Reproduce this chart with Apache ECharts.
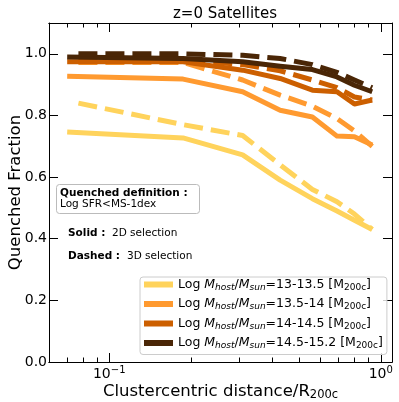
<!DOCTYPE html>
<html>
<head>
<meta charset="utf-8">
<script src="https://cdn.jsdelivr.net/npm/echarts@6/dist/echarts.min.js"></script>
<style>
  html, body { margin: 0; padding: 0; background: #fff; }
  #chart { width: 399px; height: 402px; }
</style>
</head>
<body>
<div id="chart"></div>
<script>
// radial bins (R / R200c)
const rSolid = [0.07, 0.187, 0.31, 0.426, 0.56, 0.69, 0.80, 0.93];
const rDashed = [0.077, 0.187, 0.31, 0.426, 0.56, 0.69, 0.80, 0.93];

// quenched fraction, 2D selection (solid)
const q2d_13 = [0.746, 0.727, 0.672, 0.59, 0.53, 0.49, 0.46, 0.43];
const q2d_135 = [0.927, 0.918, 0.877, 0.817, 0.795, 0.733, 0.731, 0.704];
const q2d_14 = [0.974, 0.974, 0.947, 0.92, 0.882, 0.877, 0.837, 0.85];
const q2d_145 = [0.99, 0.985, 0.974, 0.96, 0.949, 0.925, 0.898, 0.877];

// quenched fraction, 3D selection (dashed)
const q3d_13 = [0.84, 0.77, 0.735, 0.64, 0.56, 0.52, 0.48, 0.43];
const q3d_135 = [0.972, 0.972, 0.915, 0.866, 0.83, 0.79, 0.75, 0.70];
const q3d_14 = [0.98, 0.98, 0.965, 0.945, 0.915, 0.89, 0.86, 0.85];
const q3d_145 = [1.0, 1.0, 0.995, 0.985, 0.965, 0.94, 0.915, 0.89];

const massBins = ['13-13.5', '13.5-14', '14-14.5', '14.5-15.2'];
const colors = ['#ffd35c', '#ff9a30', '#cc5f00', '#4a2606'];

const xMajor = [0.1, 1];
const xMinor = [0.07, 0.08, 0.09, 0.2, 0.3, 0.4, 0.5, 0.6, 0.7, 0.8, 0.9];
const yTicks = [0, 0.2, 0.4, 0.6, 0.8, 1.0];

const solidSets = [q2d_13, q2d_135, q2d_14, q2d_145];
const dashedSets = [q3d_13, q3d_135, q3d_14, q3d_145];

const font = 'DejaVu Sans';
const pairs = (xs, ys) => xs.map((x, i) => [x, ys[i]]);

const series = [];
massBins.forEach((m, i) => {
  series.push({
    name: m, type: 'line', data: pairs(rSolid, solidSets[i]),
    symbol: 'none', silent: true,
    lineStyle: { color: colors[i], width: 5, join: 'round', cap: 'butt' },
    itemStyle: { color: colors[i] }
  });
  series.push({
    name: m + ' 3D', type: 'line', data: pairs(rDashed, dashedSets[i]),
    symbol: 'none', silent: true,
    lineStyle: { color: colors[i], width: 5, type: [19, 8], join: 'round', cap: 'butt' }
  });
});

const xBase = (pos, ticks, len, labels) => ({
  type: 'log', logBase: 10, min: 0.06, max: 1.1, position: pos,
  axisLine: { show: true, onZero: false, lineStyle: { color: '#000', width: 1 } },
  axisTick: { show: true, inside: true, length: len, customValues: ticks, lineStyle: { color: '#000', width: 1 } },
  axisLabel: labels ? {
    show: true, customValues: ticks, margin: 3,
    formatter: v => (v < 0.5 ? '{b|10}{s|\u22121}' : '{b|10}{s|0}'),
    rich: {
      b: { fontFamily: font, fontSize: 14, color: '#000', verticalAlign: 'bottom', lineHeight: 16 },
      s: { fontFamily: font, fontSize: 10, color: '#000', verticalAlign: 'top', lineHeight: 8 }
    }
  } : { show: false },
  splitLine: { show: false },
  minorTick: { show: false }
});

const legendRich = {
  n: { fontFamily: font, fontSize: 12.5, color: '#000', lineHeight: 15, verticalAlign: 'middle' },
  i: { fontFamily: font, fontSize: 12.5, fontStyle: 'italic', color: '#000', lineHeight: 15, verticalAlign: 'middle' },
  si: { fontFamily: font, fontSize: 9, fontStyle: 'italic', color: '#000', lineHeight: 6, verticalAlign: 'bottom' },
  s: { fontFamily: font, fontSize: 9, color: '#000', lineHeight: 6, verticalAlign: 'bottom' }
};

const chart = echarts.init(document.getElementById('chart'), null, { renderer: 'canvas' });
chart.setOption({
  animation: false,
  backgroundColor: '#fff',
  title: {
    text: 'z=0 Satellites', left: 220, top: 2, textAlign: 'center',
    textStyle: { fontFamily: font, fontSize: 15, fontWeight: 'normal', color: '#000' }
  },
  grid: { left: 49, top: 23, width: 343, height: 339, containLabel: false, outerBoundsMode: 'none' },
  legend: {
    data: massBins, orient: 'vertical', left: 140, top: 277,
    icon: 'rect', itemWidth: 29, itemHeight: 6, itemGap: 5.5,
    padding: [1, 4, 4, 4],
    backgroundColor: 'rgba(255,255,255,0.8)', borderColor: '#ccc', borderWidth: 1, borderRadius: 3,
    selectedMode: false,
    formatter: name => '{n|Log }{i|M}{si|host}{n|/}{i|M}{si|sun}{n|=' + name + ' [M}{s|200c}{n|]}',
    textStyle: { rich: legendRich }
  },
  xAxis: [
    Object.assign(xBase('bottom', xMajor, 9, true), {
      name: '{n|Clustercentric distance/R}{s|200c}', nameLocation: 'middle', nameGap: 20,
      nameMoveOverlap: false,
      nameTextStyle: {
        rich: {
          n: { fontFamily: font, fontSize: 16.5, color: '#000', verticalAlign: 'middle', lineHeight: 19 },
          s: { fontFamily: font, fontSize: 11.5, color: '#000', verticalAlign: 'bottom', lineHeight: 8 }
        }
      }
    }),
    xBase('bottom', xMinor, 4.5, false),
    xBase('top', xMajor, 9, false),
    xBase('top', xMinor, 4.5, false)
  ],
  yAxis: [
    {
      type: 'value', min: 0, max: 1.1, position: 'left',
      name: 'Quenched Fraction', nameLocation: 'middle', nameGap: 25, nameMoveOverlap: false,
      nameTextStyle: { fontFamily: font, fontSize: 16.5, color: '#000' },
      axisLine: { show: true, onZero: false, lineStyle: { color: '#000', width: 1 } },
      axisTick: { show: true, inside: true, length: 9, customValues: yTicks, lineStyle: { color: '#000' } },
      axisLabel: { show: true, customValues: yTicks, margin: 2, fontFamily: font, fontSize: 14, color: '#000',
        formatter: v => v.toFixed(1) },
      splitLine: { show: false }
    },
    {
      type: 'value', min: 0, max: 1.1, position: 'right',
      axisLine: { show: true, onZero: false, lineStyle: { color: '#000', width: 1 } },
      axisTick: { show: true, inside: true, length: 9, customValues: yTicks, lineStyle: { color: '#000' } },
      axisLabel: { show: false },
      splitLine: { show: false }
    }
  ],
  graphic: [
    { type: 'rect', left: 56, top: 184, shape: { width: 143, height: 29, r: 3 },
      style: { fill: 'rgba(255,255,255,0.8)', stroke: '#bbb', lineWidth: 1 }, z: 10 },
    { type: 'text', left: 60, top: 188, z: 11,
      style: { text: 'Quenched definition :', fontFamily: font, fontSize: 10.5, fontWeight: 'bold', fill: '#000' } },
    { type: 'text', left: 60, top: 199, z: 11,
      style: { text: 'Log SFR<MS-1dex', fontFamily: font, fontSize: 10.5, fill: '#000' } },
    { type: 'text', left: 68, top: 228, z: 11,
      style: { text: 'Solid :', fontFamily: font, fontSize: 10.5, fontWeight: 'bold', fill: '#000' } },
    { type: 'text', left: 112, top: 228, z: 11,
      style: { text: '2D selection', fontFamily: font, fontSize: 10.5, fill: '#000' } },
    { type: 'text', left: 68, top: 251, z: 11,
      style: { text: 'Dashed :', fontFamily: font, fontSize: 10.5, fontWeight: 'bold', fill: '#000' } },
    { type: 'text', left: 127, top: 251, z: 11,
      style: { text: '3D selection', fontFamily: font, fontSize: 10.5, fill: '#000' } }
  ],
  series: series
});
</script>
</body>
</html>
